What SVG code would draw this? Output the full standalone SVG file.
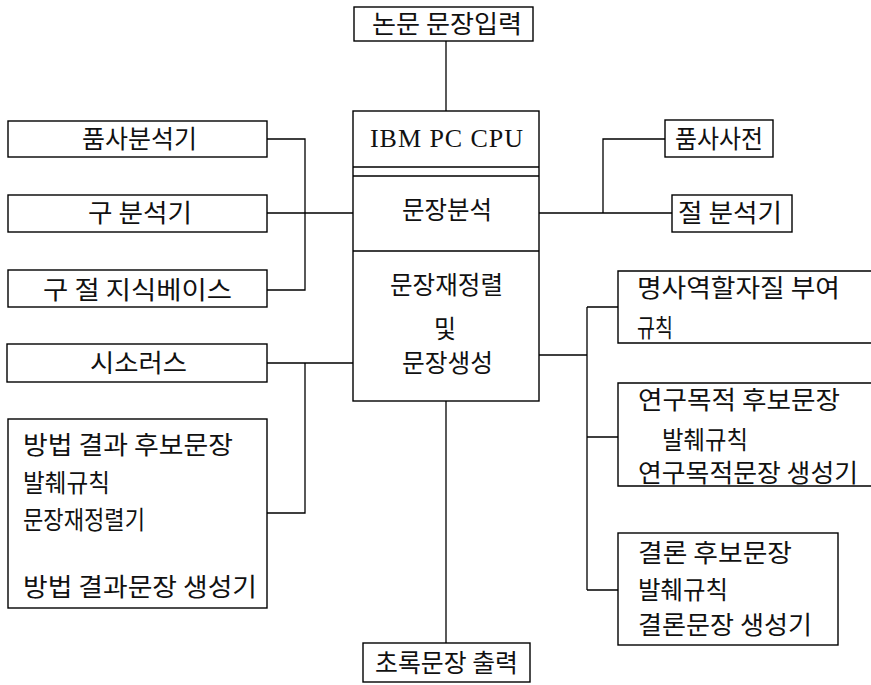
<svg xmlns="http://www.w3.org/2000/svg" width="871" height="685" viewBox="0 0 871 685">
<style>
.b{fill:none;stroke:#000;stroke-width:1.4}
.c{fill:none;stroke:#000;stroke-width:1.3}
.t{font-family:"Noto Sans CJK KR","Noto Sans",sans-serif;font-size:25px;fill:#111}
.s{font-family:"Liberation Serif",serif;font-size:26px;fill:#111}
</style>
<rect width="871" height="685" fill="#fff"/>
<g id="connectors">
<path class="c" d="M446,41V111"/>
<path class="c" d="M267,139H305V290H267M267,213H353"/>
<path class="c" d="M267,363H353M305,363V513H267"/>
<path class="c" d="M539,213H672M603,213V139H665"/>
<path class="c" d="M539,355H587M587,307V590M587,307H618M587,437H618M587,590H618"/>
<path class="c" d="M446,401V643"/>
</g>
<g id="input"><rect class="b" x="354" y="7" width="179" height="34"/><text class="t" x="372" y="33" textLength="150" lengthAdjust="spacingAndGlyphs">논문 문장입력</text></g>
<g id="cpu"><rect class="b" x="353" y="111" width="186" height="290"/><path class="b" d="M353,167H539M353,176H539M353,251H539"/>
<text class="s" x="370" y="147" textLength="153" lengthAdjust="spacing">IBM PC CPU</text>
<text class="t" x="402" y="219" textLength="90" lengthAdjust="spacingAndGlyphs">문장분석</text>
<text class="t" x="390" y="294" textLength="113" lengthAdjust="spacingAndGlyphs">문장재정렬</text>
<text class="t" x="434" y="338" textLength="22" lengthAdjust="spacingAndGlyphs">및</text>
<text class="t" x="402" y="372" textLength="91" lengthAdjust="spacingAndGlyphs">문장생성</text></g>
<g id="pos"><rect class="b" x="8" y="121" width="259" height="36"/><text class="t" x="82" y="148" textLength="115" lengthAdjust="spacingAndGlyphs">품사분석기</text></g>
<g id="phrase"><rect class="b" x="8" y="195" width="259" height="37"/><text class="t" x="88" y="222" textLength="104" lengthAdjust="spacingAndGlyphs">구 분석기</text></g>
<g id="kb"><rect class="b" x="8" y="270" width="259" height="37"/><text class="t" x="43" y="299" textLength="189" lengthAdjust="spacingAndGlyphs">구 절 지식베이스</text></g>
<g id="posdict"><rect class="b" x="665" y="120" width="108" height="37"/><text class="t" x="675" y="148" textLength="88" lengthAdjust="spacingAndGlyphs">품사사전</text></g>
<g id="clause"><rect class="b" x="672" y="195" width="120" height="37"/><text class="t" x="678" y="222" textLength="104" lengthAdjust="spacingAndGlyphs">절 분석기</text></g>
<g id="thesaurus"><rect class="b" x="7" y="344" width="260" height="38"/><text class="t" x="90" y="372" textLength="97" lengthAdjust="spacingAndGlyphs">시소러스</text></g>
<g id="method"><rect class="b" x="8" y="419" width="259" height="189"/>
<text class="t" x="23" y="454" textLength="210" lengthAdjust="spacingAndGlyphs">방법 결과 후보문장</text>
<text class="t" x="23" y="492" textLength="87" lengthAdjust="spacingAndGlyphs">발췌규칙</text>
<text class="t" x="23" y="529" textLength="122" lengthAdjust="spacingAndGlyphs">문장재정렬기</text>
<text class="t" x="23" y="596" textLength="234" lengthAdjust="spacingAndGlyphs">방법 결과문장 생성기</text></g>
<g id="noun"><path class="b" d="M872,271H618V343H872"/>
<text class="t" x="637" y="297" textLength="203" lengthAdjust="spacingAndGlyphs">명사역할자질 부여</text>
<text class="t" x="637" y="337" textLength="36" lengthAdjust="spacingAndGlyphs">규칙</text></g>
<g id="purpose"><path class="b" d="M872,383H618V486H872"/>
<text class="t" x="638" y="409" textLength="202" lengthAdjust="spacingAndGlyphs">연구목적 후보문장</text>
<text class="t" x="662" y="449" textLength="86" lengthAdjust="spacingAndGlyphs">발췌규칙</text>
<text class="t" x="638" y="482" textLength="220" lengthAdjust="spacingAndGlyphs">연구목적문장 생성기</text></g>
<g id="conclusion"><rect class="b" x="618" y="533" width="220" height="112"/>
<text class="t" x="638" y="562" textLength="154" lengthAdjust="spacingAndGlyphs">결론 후보문장</text>
<text class="t" x="638" y="599" textLength="90" lengthAdjust="spacingAndGlyphs">발췌규칙</text>
<text class="t" x="638" y="634" textLength="174" lengthAdjust="spacingAndGlyphs">결론문장 생성기</text></g>
<g id="output"><rect class="b" x="363" y="643" width="167" height="39"/><text class="t" x="375" y="672" textLength="143" lengthAdjust="spacingAndGlyphs">초록문장 출력</text></g>
</svg>
